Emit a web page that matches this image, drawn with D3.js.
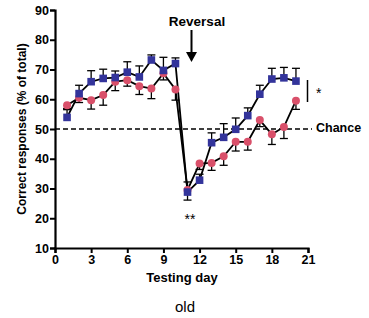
<!DOCTYPE html>
<html>
<head>
<meta charset="utf-8">
<script src="https://cdn.jsdelivr.net/npm/d3@7"></script>
<style>
  body { margin: 0; background: #fff; }
  text { font-family: "Liberation Sans", Arial, sans-serif; }
</style>
</head>
<body>
<div id="chart"></div>
<script>
// values
let days = [1,2,3,4,5,6,7,8,9,10,11,12,13,14,15,16,17,18,19,20];
let blueVals = [53.9,61.9,65.9,67.0,67.3,69.1,67.5,73.2,69.7,72.0,28.8,32.8,45.4,47.2,49.9,54.5,61.7,66.8,67.2,66.1];
let blueErr  = [3.0,2.8,3.7,3.1,2.2,3.5,3.7,1.7,4.4,1.9,3.4,2.0,3.3,4.6,3.8,2.6,3.0,3.6,3.5,4.3];
let redVals  = [58.0,60.5,59.7,61.4,65.9,66.4,64.4,63.6,68.7,63.3,29.5,38.4,38.6,40.8,45.7,45.7,53.0,48.2,50.7,59.5];
let redErr   = [1.5,1.6,3.0,3.4,3.0,2.0,2.8,3.4,2.2,3.6,3.4,2.0,2.5,3.0,3.1,2.8,2.2,3.4,3.9,2.9];
let xTicks = [0,3,6,9,12,15,18,21];
let yTicks = [10,20,30,40,50,60,70,80,90];

let width = 369, height = 318;
let svg = d3.select("#chart").append("svg")
    .attr("width", width)
    .attr("height", height);

let x = d3.scaleLinear().domain([0, 21]).range([55, 308]);
let y = d3.scaleLinear().domain([10, 90]).range([248, 10]);

// axes
let xAxis = svg.append("g")
    .attr("transform", `translate(0,${y(10)})`)
    .call(d3.axisBottom(x).tickValues(xTicks).tickSize(5).tickPadding(2));
let yAxis = svg.append("g")
    .attr("transform", `translate(${x(0)},0)`)
    .call(d3.axisLeft(y).tickValues(yTicks).tickSize(5).tickPadding(1));

[xAxis, yAxis].forEach(function(a) {
    a.select(".domain").attr("stroke", "#000").attr("stroke-width", 2.2);
    a.selectAll(".tick line").attr("stroke", "#000").attr("stroke-width", 2);
    a.selectAll(".tick text")
        .style("font-family", "Liberation Sans, Arial, sans-serif")
        .style("font-size", "12.5px")
        .style("font-weight", "bold")
        .attr("fill", "#000");
});

// chance line
svg.append("line")
    .attr("x1", x(0)).attr("x2", 312)
    .attr("y1", y(50)).attr("y2", y(50))
    .attr("stroke", "#000")
    .attr("stroke-width", 1.3)
    .attr("stroke-dasharray", "5,3");

let blue = days.map((d, i) => ({day: d, v: blueVals[i], e: blueErr[i]}));
let red = days.map((d, i) => ({day: d, v: redVals[i], e: redErr[i]}));

let line = d3.line().x(d => x(d.day)).y(d => y(d.v));

// error bars: blue upward, red downward
function errorBars(data, dir) {
    let g = svg.append("g").attr("stroke", "#000").attr("stroke-width", 1.3);
    g.selectAll(".v").data(data).enter().append("line")
        .attr("x1", d => x(d.day)).attr("x2", d => x(d.day))
        .attr("y1", d => y(d.v)).attr("y2", d => y(d.v + dir * d.e));
    g.selectAll(".c").data(data).enter().append("line")
        .attr("x1", d => x(d.day) - 4).attr("x2", d => x(d.day) + 4)
        .attr("y1", d => y(d.v + dir * d.e)).attr("y2", d => y(d.v + dir * d.e));
}
errorBars(red, -1);
errorBars(blue, 1);

svg.append("path").datum(red)
    .attr("d", line).attr("fill", "none")
    .attr("stroke", "#000").attr("stroke-width", 1.8);
svg.append("path").datum(blue)
    .attr("d", line).attr("fill", "none")
    .attr("stroke", "#000").attr("stroke-width", 1.8);

svg.selectAll(".redpt").data(red).enter().append("circle")
    .attr("cx", d => x(d.day)).attr("cy", d => y(d.v))
    .attr("r", 4)
    .attr("fill", "#d9506a");

svg.selectAll(".bluept").data(blue).enter().append("rect")
    .attr("x", d => x(d.day) - 3.8).attr("y", d => y(d.v) - 3.8)
    .attr("width", 7.6).attr("height", 7.6)
    .attr("fill", "#33349b");

// annotations
svg.append("text")
    .attr("x", 197).attr("y", 26)
    .attr("text-anchor", "middle")
    .style("font-size", "13.5px").style("font-weight", "bold")
    .text("Reversal");
svg.append("line")
    .attr("x1", 191.5).attr("x2", 191.5)
    .attr("y1", 30).attr("y2", 54)
    .attr("stroke", "#000").attr("stroke-width", 2);
svg.append("path")
    .attr("d", "M186,52 L197,52 L191.5,62 Z")
    .attr("fill", "#000");

svg.append("text")
    .attr("x", 190).attr("y", 224)
    .attr("text-anchor", "middle")
    .style("font-size", "14px")
    .text("**");

svg.append("line")
    .attr("x1", 307.5).attr("x2", 307.5)
    .attr("y1", 80).attr("y2", 102)
    .attr("stroke", "#000").attr("stroke-width", 1.5);
svg.append("text")
    .attr("x", 316).attr("y", 98)
    .style("font-size", "14px")
    .text("*");

svg.append("text")
    .attr("x", 316).attr("y", 132)
    .style("font-size", "12.5px").style("font-weight", "bold")
    .text("Chance");

// axis titles
svg.append("text")
    .attr("x", 182).attr("y", 282)
    .attr("text-anchor", "middle")
    .style("font-size", "13px").style("font-weight", "bold")
    .text("Testing day");

svg.append("text")
    .attr("transform", `translate(26,${y(50)}) rotate(-90)`)
    .attr("text-anchor", "middle")
    .style("font-size", "12px").style("font-weight", "bold")
    .text("Correct responses (% of total)");

svg.append("text")
    .attr("x", 185).attr("y", 312)
    .attr("text-anchor", "middle")
    .style("font-size", "15px")
    .text("old");
</script>
</body>
</html>
